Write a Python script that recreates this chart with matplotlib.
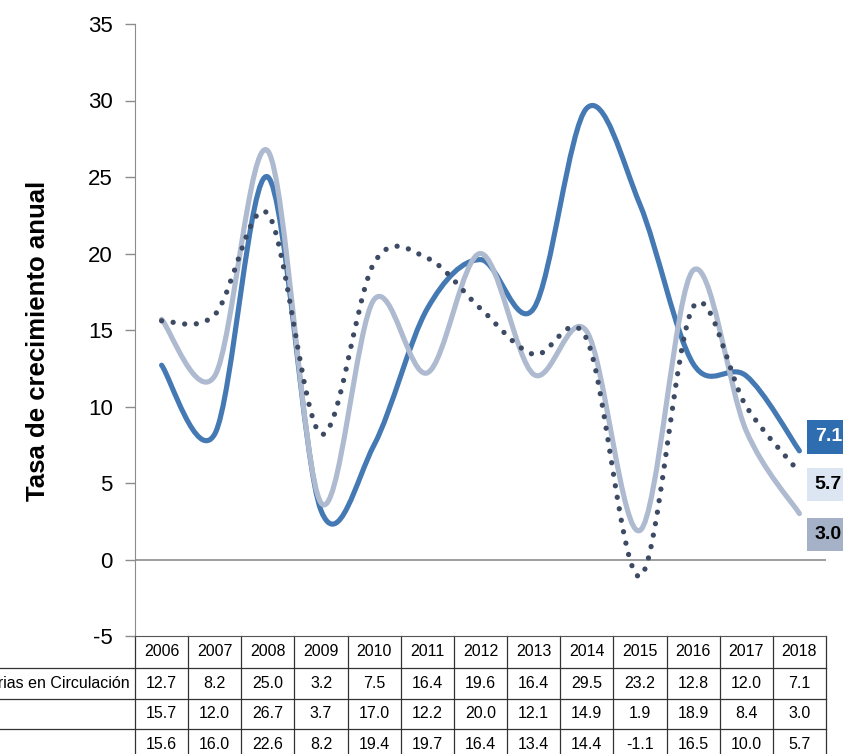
import matplotlib
matplotlib.use('Agg')
import matplotlib.pyplot as plt
from matplotlib.path import Path
from matplotlib.patches import PathPatch

plt.rcParams['font.family'] = ['Liberation Sans', 'DejaVu Sans']
plt.rcParams['axes.unicode_minus'] = False

years = [2006, 2007, 2008, 2009, 2010, 2011, 2012, 2013, 2014, 2015, 2016, 2017, 2018]
especies = [12.7, 8.2, 25.0, 3.2, 7.5, 16.4, 19.6, 16.4, 29.5, 23.2, 12.8, 12.0, 7.1]
serie_2 = [15.7, 12.0, 26.7, 3.7, 17.0, 12.2, 20.0, 12.1, 14.9, 1.9, 18.9, 8.4, 3.0]
serie_3 = [15.6, 16.0, 22.6, 8.2, 19.4, 19.7, 16.4, 13.4, 14.4, -1.1, 16.5, 10.0, 5.7]
row_label = 'Especies Monetarias en Circulación'

BLUE = '#4479b3'
LIGHT = '#aebacf'
DOTS = '#3d4a63'


def smooth_path(xs, ys):
    """Excel-like smoothed line: Catmull-Rom turned into cubic Bezier segments."""
    pts = list(zip(xs, ys))
    verts = [pts[0]]
    codes = [Path.MOVETO]
    for i in range(len(pts) - 1):
        p0 = pts[i - 1] if i > 0 else pts[i]
        p1 = pts[i]
        p2 = pts[i + 1]
        p3 = pts[i + 2] if i + 2 < len(pts) else pts[i + 1]
        c1 = (p1[0] + (p2[0] - p0[0]) / 6, p1[1] + (p2[1] - p0[1]) / 6)
        c2 = (p2[0] - (p3[0] - p1[0]) / 6, p2[1] - (p3[1] - p1[1]) / 6)
        verts += [c1, c2, p2]
        codes += [Path.CURVE4] * 3
    return Path(verts, codes)


fig = plt.figure(figsize=(8.43, 7.54), dpi=100)
ax = fig.add_axes([135 / 843, 1 - 636 / 754, (826 - 135) / 843, (636 - 24) / 754])

ax.add_patch(PathPatch(smooth_path(years, especies), fill=False, edgecolor=BLUE,
                       lw=3.7, capstyle='round', joinstyle='round', zorder=3))
ax.add_patch(PathPatch(smooth_path(years, serie_2), fill=False, edgecolor=LIGHT,
                       lw=3.7, capstyle='round', joinstyle='round', zorder=4))
dotted = PathPatch(smooth_path(years, serie_3), fill=False, edgecolor=DOTS,
                   lw=3.8, linestyle=(0, (0.01, 2.2)), zorder=5)
dotted.set_capstyle('round')
ax.add_patch(dotted)

ax.set_xlim(years[0] - 0.5, years[-1] + 0.5)
ax.set_ylim(-5, 35)
ax.set_yticks(range(-5, 36, 5))
ax.set_xticks([])
ax.tick_params(axis='y', direction='out', length=7, width=1, color='#8c8c8c',
               labelsize=16, pad=9)
for side in ['top', 'right']:
    ax.spines[side].set_visible(False)
ax.spines['left'].set_color('#8c8c8c')
ax.spines['bottom'].set_color('#555555')
ax.axhline(0, color='#8c8c8c', lw=1.2, zorder=2)

fig.text(38 / 843, 1 - 341 / 754, 'Tasa de crecimiento anual', rotation=90,
         ha='center', va='center', fontsize=18.5, fontweight='bold')

# end-of-line value labels
end_labels = [
    (especies[-1], 10, '#2f6db1', 'white'),
    (serie_3[-1], -9, '#dce6f2', 'black'),
    (serie_2[-1], -15, '#a5b1c6', 'black'),
]
for val, dy, face, txt in end_labels:
    ax.annotate(f'{val:.1f}', xy=(years[-1], val), xytext=(11, dy), textcoords='offset points',
                ha='left', va='center', fontsize=14, fontweight='bold', color=txt,
                bbox=dict(boxstyle='square,pad=0.42', fc=face, ec='none'),
                annotation_clip=False, zorder=6)

# data table under the plot
row_h = 30.5 / 612
header_h = 32 / 612
xt = ax.get_xaxis_transform()
bounds = [0, -header_h, -header_h - row_h, -header_h - 2 * row_h, -header_h - 3 * row_h]
line_kw = dict(color='#333333', lw=0.9, clip_on=False, transform=xt)
for y in bounds[1:4]:
    ax.plot([-2, years[-1] + 0.5], [y, y], **line_kw)
for k in range(len(years) + 1):
    x = years[0] - 0.5 + k
    ax.plot([x, x], [0, bounds[-1]], **line_kw)

rows = [years, especies, serie_2, serie_3]
for r, vals in enumerate(rows):
    yc = (bounds[r] + bounds[r + 1]) / 2
    for yr, v in zip(years, vals):
        s = str(v) if r == 0 else f'{v:.1f}'
        ax.text(yr, yc, s, transform=xt, ha='center', va='center', fontsize=11.5, clip_on=False)

# series name of the first row, running off the left edge as in the original
ax.text(-0.008, (bounds[1] + bounds[2]) / 2, row_label, transform=ax.transAxes,
        ha='right', va='center', fontsize=11.5, clip_on=False)

fig.savefig('out.png', dpi=100)
